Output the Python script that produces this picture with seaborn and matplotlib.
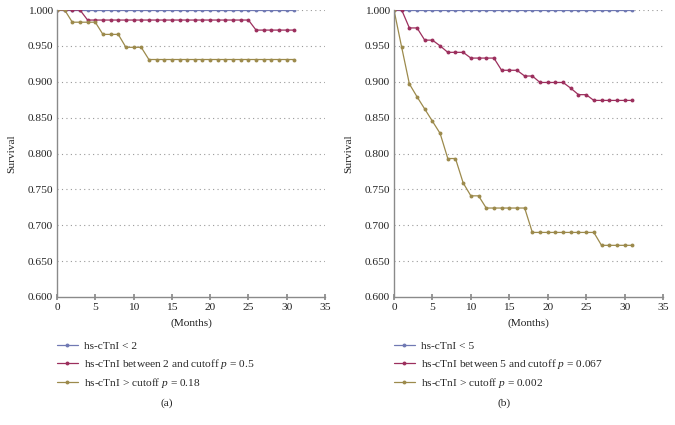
import numpy as np
import pandas as pd
import matplotlib
matplotlib.use("Agg")
import matplotlib.pyplot as plt
import seaborn as sns
from matplotlib.lines import Line2D

months = list(range(0, 32))

# Panel (a)
a_low = [1.000] * 32
a_mid = [1.000] * 4 + [0.986] * 22 + [0.972] * 6
a_high = [1.000] * 2 + [0.983] * 4 + [0.966] * 3 + [0.948] * 3 + [0.931] * 20

# Panel (b)
b_low = [1.000] * 32
b_mid = ([1.000] * 2 + [0.975] * 2 + [0.958] * 2 + [0.950] + [0.941] * 3 +
         [0.933] * 4 + [0.916] * 3 + [0.908] * 2 + [0.899] * 4 + [0.891] +
         [0.882] * 2 + [0.874] * 6)
b_high = ([1.000, 0.948, 0.897, 0.879, 0.862, 0.845, 0.828, 0.793, 0.793,
           0.759, 0.741, 0.741] + [0.724] * 6 + [0.690] * 9 + [0.672] * 5)

a_labels = ["hs-cTnI < 2", "hs-cTnI between 2 and cutoff $p$ = 0.5",
            "hs-cTnI > cutoff $p$ = 0.18"]
b_labels = ["hs-cTnI < 5", "hs-cTnI between 5 and cutoff $p$ = 0.067",
            "hs-cTnI > cutoff $p$ = 0.002"]
panel_tags = ["(a)", "(b)"]
yticks = [0.600, 0.650, 0.700, 0.750, 0.800, 0.850, 0.900, 0.950, 1.000]
xticks = [0, 5, 10, 15, 20, 25, 30, 35]

colors = ["#7079b3", "#9c2f5d", "#9c8a4c"]

sns.set_theme(style="white")
plt.rcParams["font.family"] = ["Liberation Serif", "DejaVu Serif"]
plt.rcParams["mathtext.fontset"] = "custom"
plt.rcParams["mathtext.it"] = "Liberation Serif:italic"
plt.rcParams["mathtext.rm"] = "Liberation Serif"

FS = 8.2
fig = plt.figure(figsize=(6.75, 4.25), dpi=100)
W, H = 675, 425
axes_px = [(57, 325), (394, 663)]
top_px, bot_px = 10, 297

for i, (series, labels) in enumerate([((a_low, a_mid, a_high), a_labels),
                                       ((b_low, b_mid, b_high), b_labels)]):
    x0, x1 = axes_px[i]
    ax = fig.add_axes([x0 / W, 1 - bot_px / H, (x1 - x0) / W, (bot_px - top_px) / H])
    df = pd.concat([pd.DataFrame({"Months": months, "Survival": s, "group": lab})
                    for s, lab in zip(series, labels)])
    sns.lineplot(data=df, x="Months", y="Survival", hue="group",
                 hue_order=labels, palette=colors, marker="o", markersize=2.8,
                 markeredgewidth=0, linewidth=0.9, ax=ax, legend=False)
    ax.set_xlim(0, 35)
    ax.set_ylim(0.6, 1.0)
    ax.set_xticks(xticks)
    ax.set_yticks(yticks)
    ax.set_yticklabels([f"{v:.3f}" for v in yticks], fontsize=FS)
    ax.set_xticklabels([str(v) for v in xticks], fontsize=FS)
    for y in yticks[1:]:
        ax.axhline(y, color="#9a9a9a", linestyle=(0, (1, 3)), linewidth=0.8, zorder=0)
    for s in ["top", "right"]:
        ax.spines[s].set_visible(False)
    for s in ["left", "bottom"]:
        ax.spines[s].set_color("#8a8a8a")
        ax.spines[s].set_linewidth(1.0)
    ax.tick_params(axis="x", direction="inout", length=4, color="#8a8a8a",
                   pad=2, labelcolor="#222222", bottom=True)
    ax.tick_params(axis="y", direction="out", length=0, pad=3, labelcolor="#222222", left=True)
    ax.set_xlabel("(Months)", fontsize=FS, labelpad=5, color="#222222")
    ax.set_ylabel("Survival", fontsize=FS, labelpad=8, color="#222222")
    handles = [Line2D([0], [0], color=c, marker="o", markersize=2.8,
                      markeredgewidth=0, linewidth=0.9) for c in colors]
    ax.legend(handles, labels, loc="upper left",
              bbox_to_anchor=(0.0, -0.155), frameon=False, fontsize=FS,
              handlelength=1.8, labelspacing=0.45, handletextpad=0.55,
              borderaxespad=0, borderpad=0)
    fig.text((x0 + (x1 - x0) * 0.41) / W, 1 - 403 / H, panel_tags[i],
             ha="center", va="center", fontsize=FS, color="#222222")

fig.savefig("out.png", dpi=100, facecolor="white")
